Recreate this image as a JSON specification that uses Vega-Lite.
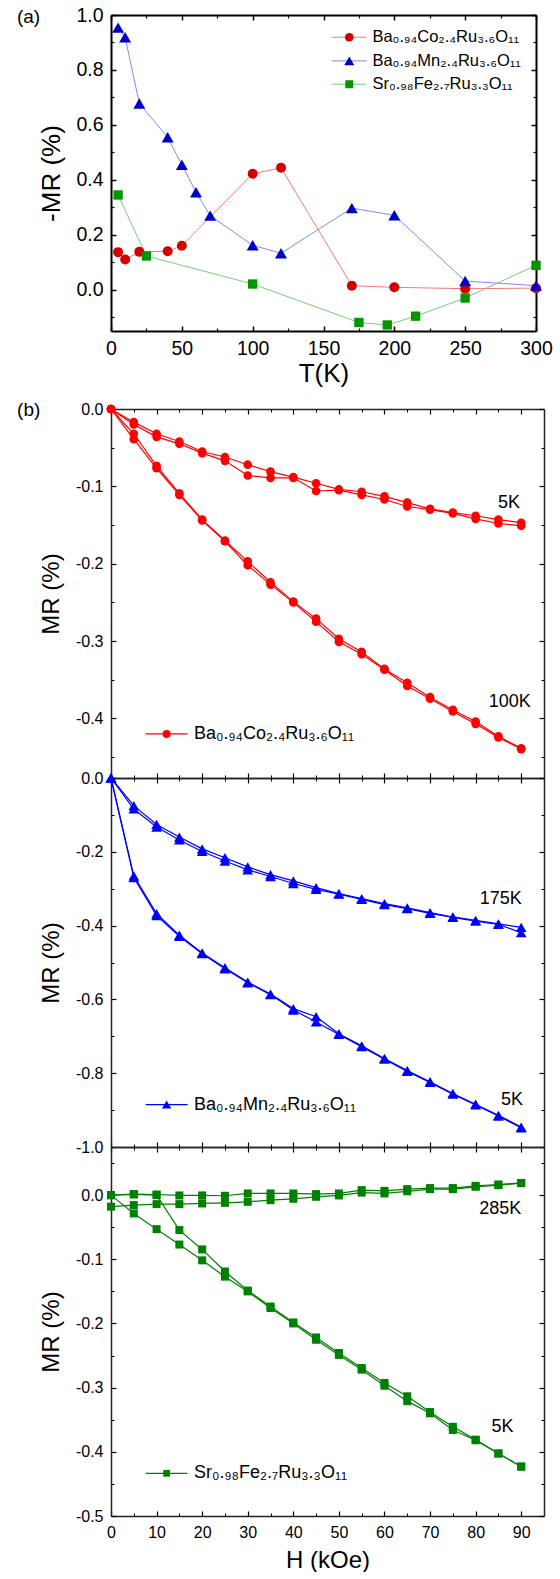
{
"$schema": "https://vega.github.io/schema/vega-lite/v6.json",
"padding": {"left": 16, "top": 5, "right": 0, "bottom": 0},
"config": {
  "font": "Liberation Sans",
  "view": {"stroke": null},
  "axis": {"grid": false, "labelFlush": false, "labelOverlap": false, "labelColor": "#000", "titleColor": "#000", "titleFontWeight": "normal", "tickColor": "#000", "domainColor": "#000", "labelFont": "Liberation Sans", "titleFont": "Liberation Sans"},
  "text": {"font": "Liberation Sans", "color": "#000"}
},
"datasets": {
  "tdep": [
    {"sample": "Co", "T": 5, "minusMR": 0.137}, {"sample": "Co", "T": 10, "minusMR": 0.11}, {"sample": "Co", "T": 20, "minusMR": 0.138}, {"sample": "Co", "T": 40, "minusMR": 0.14}, {"sample": "Co", "T": 50, "minusMR": 0.16}, {"sample": "Co", "T": 100, "minusMR": 0.422}, {"sample": "Co", "T": 120, "minusMR": 0.444}, {"sample": "Co", "T": 170, "minusMR": 0.015}, {"sample": "Co", "T": 200, "minusMR": 0.009}, {"sample": "Co", "T": 250, "minusMR": 0.004}, {"sample": "Co", "T": 300, "minusMR": 0.006},
    {"sample": "Mn", "T": 5, "minusMR": 0.954}, {"sample": "Mn", "T": 10, "minusMR": 0.919}, {"sample": "Mn", "T": 20, "minusMR": 0.678}, {"sample": "Mn", "T": 40, "minusMR": 0.555}, {"sample": "Mn", "T": 50, "minusMR": 0.455}, {"sample": "Mn", "T": 60, "minusMR": 0.355}, {"sample": "Mn", "T": 70, "minusMR": 0.27}, {"sample": "Mn", "T": 100, "minusMR": 0.162}, {"sample": "Mn", "T": 120, "minusMR": 0.133}, {"sample": "Mn", "T": 170, "minusMR": 0.297}, {"sample": "Mn", "T": 200, "minusMR": 0.271}, {"sample": "Mn", "T": 250, "minusMR": 0.032}, {"sample": "Mn", "T": 300, "minusMR": 0.015},
    {"sample": "Fe", "T": 5, "minusMR": 0.345}, {"sample": "Fe", "T": 25, "minusMR": 0.123}, {"sample": "Fe", "T": 100, "minusMR": 0.021}, {"sample": "Fe", "T": 175, "minusMR": -0.119}, {"sample": "Fe", "T": 195, "minusMR": -0.128}, {"sample": "Fe", "T": 215, "minusMR": -0.096}, {"sample": "Fe", "T": 250, "minusMR": -0.03}, {"sample": "Fe", "T": 300, "minusMR": 0.089}
  ],
  "hdep": [
    {"sample": "Co", "T": "5K", "H": 0, "sweep1": 0, "sweep2": 0},
    {"sample": "Co", "T": "5K", "H": 5, "sweep1": -0.017, "sweep2": -0.020},
    {"sample": "Co", "T": "5K", "H": 10, "sweep1": -0.032, "sweep2": -0.036},
    {"sample": "Co", "T": "5K", "H": 15, "sweep1": -0.042, "sweep2": -0.045},
    {"sample": "Co", "T": "5K", "H": 20, "sweep1": -0.055, "sweep2": -0.057},
    {"sample": "Co", "T": "5K", "H": 25, "sweep1": -0.062, "sweep2": -0.067},
    {"sample": "Co", "T": "5K", "H": 30, "sweep1": -0.072, "sweep2": -0.086},
    {"sample": "Co", "T": "5K", "H": 35, "sweep1": -0.081, "sweep2": -0.089},
    {"sample": "Co", "T": "5K", "H": 40, "sweep1": -0.088, "sweep2": -0.089},
    {"sample": "Co", "T": "5K", "H": 45, "sweep1": -0.096, "sweep2": -0.106},
    {"sample": "Co", "T": "5K", "H": 50, "sweep1": -0.104, "sweep2": -0.105},
    {"sample": "Co", "T": "5K", "H": 55, "sweep1": -0.107, "sweep2": -0.111},
    {"sample": "Co", "T": "5K", "H": 60, "sweep1": -0.113, "sweep2": -0.117},
    {"sample": "Co", "T": "5K", "H": 65, "sweep1": -0.121, "sweep2": -0.126},
    {"sample": "Co", "T": "5K", "H": 70, "sweep1": -0.129, "sweep2": -0.130},
    {"sample": "Co", "T": "5K", "H": 75, "sweep1": -0.134, "sweep2": -0.135},
    {"sample": "Co", "T": "5K", "H": 80, "sweep1": -0.138, "sweep2": -0.142},
    {"sample": "Co", "T": "5K", "H": 85, "sweep1": -0.143, "sweep2": -0.148},
    {"sample": "Co", "T": "5K", "H": 90, "sweep1": -0.147, "sweep2": -0.151},
    {"sample": "Co", "T": "100K", "H": 0, "sweep1": 0, "sweep2": 0},
    {"sample": "Co", "T": "100K", "H": 5, "sweep1": -0.032, "sweep2": -0.039},
    {"sample": "Co", "T": "100K", "H": 10, "sweep1": -0.0735, "sweep2": -0.0766},
    {"sample": "Co", "T": "100K", "H": 15, "sweep1": -0.109, "sweep2": -0.111},
    {"sample": "Co", "T": "100K", "H": 20, "sweep1": -0.143, "sweep2": -0.144},
    {"sample": "Co", "T": "100K", "H": 25, "sweep1": -0.170, "sweep2": -0.171},
    {"sample": "Co", "T": "100K", "H": 30, "sweep1": -0.197, "sweep2": -0.202},
    {"sample": "Co", "T": "100K", "H": 35, "sweep1": -0.224, "sweep2": -0.227},
    {"sample": "Co", "T": "100K", "H": 40, "sweep1": -0.249, "sweep2": -0.250},
    {"sample": "Co", "T": "100K", "H": 45, "sweep1": -0.271, "sweep2": -0.275},
    {"sample": "Co", "T": "100K", "H": 50, "sweep1": -0.297, "sweep2": -0.301},
    {"sample": "Co", "T": "100K", "H": 55, "sweep1": -0.314, "sweep2": -0.317},
    {"sample": "Co", "T": "100K", "H": 60, "sweep1": -0.336, "sweep2": -0.337},
    {"sample": "Co", "T": "100K", "H": 65, "sweep1": -0.354, "sweep2": -0.358},
    {"sample": "Co", "T": "100K", "H": 70, "sweep1": -0.3725, "sweep2": -0.3746},
    {"sample": "Co", "T": "100K", "H": 75, "sweep1": -0.389, "sweep2": -0.391},
    {"sample": "Co", "T": "100K", "H": 80, "sweep1": -0.404, "sweep2": -0.407},
    {"sample": "Co", "T": "100K", "H": 85, "sweep1": -0.423, "sweep2": -0.4245},
    {"sample": "Co", "T": "100K", "H": 90, "sweep1": -0.4387, "sweep2": -0.4396},
    {"sample": "Mn", "T": "175K", "H": 0, "sweep1": 0, "sweep2": 0},
    {"sample": "Mn", "T": "175K", "H": 5, "sweep1": -0.075, "sweep2": -0.084},
    {"sample": "Mn", "T": "175K", "H": 10, "sweep1": -0.126, "sweep2": -0.133},
    {"sample": "Mn", "T": "175K", "H": 15, "sweep1": -0.160, "sweep2": -0.168},
    {"sample": "Mn", "T": "175K", "H": 20, "sweep1": -0.192, "sweep2": -0.199},
    {"sample": "Mn", "T": "175K", "H": 25, "sweep1": -0.216, "sweep2": -0.225},
    {"sample": "Mn", "T": "175K", "H": 30, "sweep1": -0.241, "sweep2": -0.249},
    {"sample": "Mn", "T": "175K", "H": 35, "sweep1": -0.262, "sweep2": -0.267},
    {"sample": "Mn", "T": "175K", "H": 40, "sweep1": -0.279, "sweep2": -0.286},
    {"sample": "Mn", "T": "175K", "H": 45, "sweep1": -0.297, "sweep2": -0.302},
    {"sample": "Mn", "T": "175K", "H": 50, "sweep1": -0.3135, "sweep2": -0.315},
    {"sample": "Mn", "T": "175K", "H": 55, "sweep1": -0.327, "sweep2": -0.329},
    {"sample": "Mn", "T": "175K", "H": 60, "sweep1": -0.3405, "sweep2": -0.343},
    {"sample": "Mn", "T": "175K", "H": 65, "sweep1": -0.352, "sweep2": -0.354},
    {"sample": "Mn", "T": "175K", "H": 70, "sweep1": -0.365, "sweep2": -0.367},
    {"sample": "Mn", "T": "175K", "H": 75, "sweep1": -0.3766, "sweep2": -0.378},
    {"sample": "Mn", "T": "175K", "H": 80, "sweep1": -0.386, "sweep2": -0.388},
    {"sample": "Mn", "T": "175K", "H": 85, "sweep1": -0.3955, "sweep2": -0.397},
    {"sample": "Mn", "T": "175K", "H": 90, "sweep1": -0.405, "sweep2": -0.419},
    {"sample": "Mn", "T": "5K", "H": 0, "sweep1": 0, "sweep2": 0},
    {"sample": "Mn", "T": "5K", "H": 5, "sweep1": -0.265, "sweep2": -0.270},
    {"sample": "Mn", "T": "5K", "H": 10, "sweep1": -0.3676, "sweep2": -0.373},
    {"sample": "Mn", "T": "5K", "H": 15, "sweep1": -0.426, "sweep2": -0.429},
    {"sample": "Mn", "T": "5K", "H": 20, "sweep1": -0.474, "sweep2": -0.476},
    {"sample": "Mn", "T": "5K", "H": 25, "sweep1": -0.514, "sweep2": -0.517},
    {"sample": "Mn", "T": "5K", "H": 30, "sweep1": -0.553, "sweep2": -0.555},
    {"sample": "Mn", "T": "5K", "H": 35, "sweep1": -0.5856, "sweep2": -0.587},
    {"sample": "Mn", "T": "5K", "H": 40, "sweep1": -0.625, "sweep2": -0.629},
    {"sample": "Mn", "T": "5K", "H": 45, "sweep1": -0.647, "sweep2": -0.661},
    {"sample": "Mn", "T": "5K", "H": 50, "sweep1": -0.693, "sweep2": -0.695},
    {"sample": "Mn", "T": "5K", "H": 55, "sweep1": -0.726, "sweep2": -0.728},
    {"sample": "Mn", "T": "5K", "H": 60, "sweep1": -0.760, "sweep2": -0.762},
    {"sample": "Mn", "T": "5K", "H": 65, "sweep1": -0.793, "sweep2": -0.795},
    {"sample": "Mn", "T": "5K", "H": 70, "sweep1": -0.823, "sweep2": -0.825},
    {"sample": "Mn", "T": "5K", "H": 75, "sweep1": -0.855, "sweep2": -0.857},
    {"sample": "Mn", "T": "5K", "H": 80, "sweep1": -0.884, "sweep2": -0.886},
    {"sample": "Mn", "T": "5K", "H": 85, "sweep1": -0.914, "sweep2": -0.916},
    {"sample": "Mn", "T": "5K", "H": 90, "sweep1": -0.946, "sweep2": -0.948},
    {"sample": "Fe", "T": "285K", "H": 0, "sweep1": 0, "sweep2": -0.018},
    {"sample": "Fe", "T": "285K", "H": 5, "sweep1": 0.0016, "sweep2": -0.0155},
    {"sample": "Fe", "T": "285K", "H": 10, "sweep1": 0.001, "sweep2": -0.014},
    {"sample": "Fe", "T": "285K", "H": 15, "sweep1": -0.0005, "sweep2": -0.014},
    {"sample": "Fe", "T": "285K", "H": 20, "sweep1": -0.0005, "sweep2": -0.013},
    {"sample": "Fe", "T": "285K", "H": 25, "sweep1": -0.001, "sweep2": -0.012},
    {"sample": "Fe", "T": "285K", "H": 30, "sweep1": 0.0026, "sweep2": -0.0104},
    {"sample": "Fe", "T": "285K", "H": 35, "sweep1": 0.0026, "sweep2": -0.0078},
    {"sample": "Fe", "T": "285K", "H": 40, "sweep1": 0.0026, "sweep2": -0.0057},
    {"sample": "Fe", "T": "285K", "H": 45, "sweep1": 0.0016, "sweep2": -0.0026},
    {"sample": "Fe", "T": "285K", "H": 50, "sweep1": 0.0026, "sweep2": -0.0005},
    {"sample": "Fe", "T": "285K", "H": 55, "sweep1": 0.0078, "sweep2": 0.004},
    {"sample": "Fe", "T": "285K", "H": 60, "sweep1": 0.0067, "sweep2": 0.0026},
    {"sample": "Fe", "T": "285K", "H": 65, "sweep1": 0.0093, "sweep2": 0.006},
    {"sample": "Fe", "T": "285K", "H": 70, "sweep1": 0.011, "sweep2": 0.0093},
    {"sample": "Fe", "T": "285K", "H": 75, "sweep1": 0.011, "sweep2": 0.0093},
    {"sample": "Fe", "T": "285K", "H": 80, "sweep1": 0.0145, "sweep2": 0.013},
    {"sample": "Fe", "T": "285K", "H": 85, "sweep1": 0.0166, "sweep2": 0.0155},
    {"sample": "Fe", "T": "285K", "H": 90, "sweep1": 0.019, "sweep2": 0.0187},
    {"sample": "Fe", "T": "5K", "H": 0, "sweep1": 0, "sweep2": 0},
    {"sample": "Fe", "T": "5K", "H": 5, "sweep1": -0.0285, "sweep2": 0.001},
    {"sample": "Fe", "T": "5K", "H": 10, "sweep1": -0.053, "sweep2": 0.0},
    {"sample": "Fe", "T": "5K", "H": 15, "sweep1": -0.077, "sweep2": -0.0545},
    {"sample": "Fe", "T": "5K", "H": 20, "sweep1": -0.1016, "sweep2": -0.0846},
    {"sample": "Fe", "T": "5K", "H": 25, "sweep1": -0.127, "sweep2": -0.119},
    {"sample": "Fe", "T": "5K", "H": 30, "sweep1": -0.150, "sweep2": -0.1487},
    {"sample": "Fe", "T": "5K", "H": 35, "sweep1": -0.176, "sweep2": -0.1736},
    {"sample": "Fe", "T": "5K", "H": 40, "sweep1": -0.200, "sweep2": -0.1984},
    {"sample": "Fe", "T": "5K", "H": 45, "sweep1": -0.2254, "sweep2": -0.2218},
    {"sample": "Fe", "T": "5K", "H": 50, "sweep1": -0.249, "sweep2": -0.246},
    {"sample": "Fe", "T": "5K", "H": 55, "sweep1": -0.272, "sweep2": -0.2694},
    {"sample": "Fe", "T": "5K", "H": 60, "sweep1": -0.297, "sweep2": -0.2927},
    {"sample": "Fe", "T": "5K", "H": 65, "sweep1": -0.321, "sweep2": -0.3135},
    {"sample": "Fe", "T": "5K", "H": 70, "sweep1": -0.340, "sweep2": -0.338},
    {"sample": "Fe", "T": "5K", "H": 75, "sweep1": -0.366, "sweep2": -0.361},
    {"sample": "Fe", "T": "5K", "H": 80, "sweep1": -0.382, "sweep2": -0.381},
    {"sample": "Fe", "T": "5K", "H": 85, "sweep1": -0.4026, "sweep2": -0.4026},
    {"sample": "Fe", "T": "5K", "H": 90, "sweep1": -0.423, "sweep2": -0.423}
  ],
  "legend": [
    {"sample": "Co", "label": "Ba₀.₉₄Co₂.₄Ru₃.₆O₁₁"},
    {"sample": "Mn", "label": "Ba₀.₉₄Mn₂.₄Ru₃.₆O₁₁"},
    {"sample": "Fe", "label": "Sr₀.₉₈Fe₂.₇Ru₃.₃O₁₁"}
  ],
  "notes": [
    {"sample": "Co", "T": "5K"}, {"sample": "Co", "T": "100K"},
    {"sample": "Mn", "T": "175K"}, {"sample": "Mn", "T": "5K"},
    {"sample": "Fe", "T": "285K"}, {"sample": "Fe", "T": "5K"}
  ],
  "panels": [{"panel": "(a)"}, {"panel": "(b)"}]
},
"spacing": 78,
"bounds": "flush",
"vconcat": [
  {
    "width": 425, "height": 316,
    "resolve": {"axis": {"x": "independent", "y": "independent"}},
    "layer": [
      {"data": {"name": "tdep"},
       "mark": {"type": "line", "strokeWidth": 1},
       "encoding": {
         "x": {"field": "T", "type": "quantitative", "scale": {"domain": [0, 300], "nice": false, "zero": false},
               "axis": {"orient": "bottom", "values": [0, 50, 100, 150, 200, 250, 300], "title": "T(K)", "titleFontSize": 26, "titlePadding": 3, "labelFontSize": 19.5, "labelPadding": 13, "tickSize": -5, "tickWidth": 1.5, "domainWidth": 2}},
         "y": {"field": "minusMR", "type": "quantitative", "scale": {"domain": [-0.15, 1.0], "nice": false, "zero": false},
               "axis": {"orient": "left", "values": [0, 0.2, 0.4, 0.6, 0.8, 1.0], "format": ".1f", "title": "-MR (%)", "titleFontSize": 26, "titlePadding": 11, "labelFontSize": 19.5, "labelPadding": 13, "tickSize": -5, "tickWidth": 1.5, "domainWidth": 2}},
         "stroke": {"field": "sample", "type": "nominal", "scale": {"domain": ["Co", "Mn", "Fe"], "range": ["#f07a7a", "#7d8cee", "#7acc7a"]}, "legend": null}
       }},
      {"data": {"name": "tdep"}, "transform": [{"filter": {"field": "sample", "equal": "Co"}}],
       "mark": {"type": "point", "filled": true, "opacity": 1, "shape": "circle", "size": 100, "color": "#d40000"},
       "encoding": {
         "x": {"field": "T", "type": "quantitative", "axis": {"orient": "top", "values": [0, 50, 100, 150, 200, 250, 300], "labels": false, "title": null, "tickSize": -5, "tickWidth": 1.5, "domainWidth": 2}},
         "y": {"field": "minusMR", "type": "quantitative", "axis": {"orient": "right", "values": [0, 0.2, 0.4, 0.6, 0.8, 1.0], "labels": false, "title": null, "tickSize": -5, "tickWidth": 1.5, "domainWidth": 2}}
       }},
      {"data": {"name": "tdep"}, "transform": [{"filter": {"field": "sample", "equal": "Mn"}}],
       "mark": {"type": "point", "filled": true, "opacity": 1, "shape": "triangle-up", "size": 144, "color": "#0000c8"},
       "encoding": {
         "x": {"field": "T", "type": "quantitative", "axis": {"orient": "bottom", "values": [25, 75, 125, 175, 225, 275], "labels": false, "title": null, "domain": false, "tickSize": -3, "tickWidth": 1.2}},
         "y": {"field": "minusMR", "type": "quantitative", "axis": {"orient": "left", "values": [-0.1, 0.1, 0.3, 0.5, 0.7, 0.9], "labels": false, "title": null, "domain": false, "tickSize": -3, "tickWidth": 1.2}}
       }},
      {"data": {"name": "tdep"}, "transform": [{"filter": {"field": "sample", "equal": "Fe"}}],
       "mark": {"type": "point", "filled": true, "opacity": 1, "shape": "square", "size": 87, "color": "#009600"},
       "encoding": {
         "x": {"field": "T", "type": "quantitative", "axis": {"orient": "top", "values": [25, 75, 125, 175, 225, 275], "labels": false, "title": null, "domain": false, "tickSize": -3, "tickWidth": 1.2}},
         "y": {"field": "minusMR", "type": "quantitative", "axis": {"orient": "right", "values": [-0.1, 0.1, 0.3, 0.5, 0.7, 0.9], "labels": false, "title": null, "domain": false, "tickSize": -3, "tickWidth": 1.2}}
       }},
      {"data": {"name": "panels"}, "transform": [{"filter": {"field": "panel", "equal": "(a)"}}],
       "mark": {"type": "text", "align": "left", "baseline": "middle", "fontSize": 19},
       "encoding": {"x": {"datum": -66.4, "axis": null}, "y": {"datum": 0.994, "axis": null}, "text": {"field": "panel"}}},
      {"data": {"name": "legend"}, "transform": [{"filter": {"field": "sample", "equal": "Co"}}],
       "mark": {"type": "rule", "color": "#f07a7a", "strokeWidth": 1},
       "encoding": {"x": {"datum": 155.7, "axis": null}, "x2": {"datum": 180.5}, "y": {"datum": 0.919, "axis": null}}},
      {"data": {"name": "legend"}, "transform": [{"filter": {"field": "sample", "equal": "Co"}}],
       "mark": {"type": "point", "filled": true, "opacity": 1, "shape": "circle", "size": 75, "color": "#d40000"},
       "encoding": {"x": {"datum": 168.2, "axis": null}, "y": {"datum": 0.919, "axis": null}}},
      {"data": {"name": "legend"}, "transform": [{"filter": {"field": "sample", "equal": "Co"}}],
       "mark": {"type": "text", "align": "left", "baseline": "middle", "fontSize": 16.5},
       "encoding": {"x": {"datum": 184.5, "axis": null}, "y": {"datum": 0.919, "axis": null}, "text": {"field": "label"}}},
      {"data": {"name": "legend"}, "transform": [{"filter": {"field": "sample", "equal": "Mn"}}],
       "mark": {"type": "rule", "color": "#7d8cee", "strokeWidth": 1},
       "encoding": {"x": {"datum": 155.7, "axis": null}, "x2": {"datum": 180.5}, "y": {"datum": 0.833, "axis": null}}},
      {"data": {"name": "legend"}, "transform": [{"filter": {"field": "sample", "equal": "Mn"}}],
       "mark": {"type": "point", "filled": true, "opacity": 1, "shape": "triangle-up", "size": 100, "color": "#0000c8"},
       "encoding": {"x": {"datum": 168.2, "axis": null}, "y": {"datum": 0.833, "axis": null}}},
      {"data": {"name": "legend"}, "transform": [{"filter": {"field": "sample", "equal": "Mn"}}],
       "mark": {"type": "text", "align": "left", "baseline": "middle", "fontSize": 16.5},
       "encoding": {"x": {"datum": 184.5, "axis": null}, "y": {"datum": 0.833, "axis": null}, "text": {"field": "label"}}},
      {"data": {"name": "legend"}, "transform": [{"filter": {"field": "sample", "equal": "Fe"}}],
       "mark": {"type": "rule", "color": "#7acc7a", "strokeWidth": 1},
       "encoding": {"x": {"datum": 155.7, "axis": null}, "x2": {"datum": 180.5}, "y": {"datum": 0.748, "axis": null}}},
      {"data": {"name": "legend"}, "transform": [{"filter": {"field": "sample", "equal": "Fe"}}],
       "mark": {"type": "point", "filled": true, "opacity": 1, "shape": "square", "size": 64, "color": "#009600"},
       "encoding": {"x": {"datum": 168.2, "axis": null}, "y": {"datum": 0.748, "axis": null}}},
      {"data": {"name": "legend"}, "transform": [{"filter": {"field": "sample", "equal": "Fe"}}],
       "mark": {"type": "text", "align": "left", "baseline": "middle", "fontSize": 16.5},
       "encoding": {"x": {"datum": 184.5, "axis": null}, "y": {"datum": 0.748, "axis": null}, "text": {"field": "label"}}}
    ]
  },
  {
    "spacing": 0,
    "bounds": "flush",
    "vconcat": [
      {
        "width": 433, "height": 369,
        "resolve": {"axis": {"x": "independent", "y": "independent"}},
        "layer": [
          {"data": {"name": "hdep"}, "transform": [{"filter": {"field": "sample", "equal": "Co"}}, {"fold": ["sweep1", "sweep2"], "as": ["sweep", "MR"]}],
           "mark": {"type": "line", "color": "#ff0000", "strokeWidth": 1.2},
           "encoding": {
             "x": {"field": "H", "type": "quantitative", "scale": {"domain": [0, 95], "nice": false, "zero": false},
                   "axis": {"orient": "bottom", "values": [0, 10, 20, 30, 40, 50, 60, 70, 80, 90], "labels": false, "title": null, "tickSize": -5, "tickWidth": 1.2, "domainWidth": 1.5, "domainColor": "#222"}},
             "y": {"field": "MR", "type": "quantitative", "scale": {"domain": [-0.477, 0], "nice": false, "zero": false},
                   "axis": {"orient": "left", "values": [0, -0.1, -0.2, -0.3, -0.4], "labelExpr": "replace(format(datum.value, '.1f'), '−', '-')", "labelFontSize": 16, "labelPadding": 13, "title": "MR (%)", "titleFontSize": 24, "titlePadding": 12, "tickSize": -5, "tickWidth": 1.2, "domainWidth": 1.5, "domainColor": "#222"}},
             "detail": [{"field": "T", "type": "nominal"}, {"field": "sweep", "type": "nominal"}]
           }},
          {"data": {"name": "hdep"}, "transform": [{"filter": {"field": "sample", "equal": "Co"}}, {"fold": ["sweep1", "sweep2"], "as": ["sweep", "MR"]}],
           "mark": {"type": "point", "filled": true, "opacity": 1, "shape": "circle", "size": 75, "color": "#ff0000"},
           "encoding": {
             "x": {"field": "H", "type": "quantitative", "axis": {"orient": "top", "values": [0, 10, 20, 30, 40, 50, 60, 70, 80, 90], "labels": false, "title": null, "tickSize": -5, "tickWidth": 1.2, "domainWidth": 1.5, "domainColor": "#222"}},
             "y": {"field": "MR", "type": "quantitative", "axis": {"orient": "right", "values": [0, -0.1, -0.2, -0.3, -0.4], "labels": false, "title": null, "tickSize": -5, "tickWidth": 1.2, "domainWidth": 1.5, "domainColor": "#222"}}
           }},
          {"data": {"name": "legend"}, "transform": [{"filter": {"field": "sample", "equal": "Co"}}],
           "mark": {"type": "rule", "color": "#ff0000", "strokeWidth": 1.2},
           "encoding": {
             "x": {"datum": 7.6, "axis": {"orient": "bottom", "values": [5, 15, 25, 35, 45, 55, 65, 75, 85], "labels": false, "title": null, "domain": false, "tickSize": -3, "tickWidth": 1}},
             "x2": {"datum": 16.8},
             "y": {"datum": -0.42, "axis": {"orient": "left", "values": [-0.05, -0.15, -0.25, -0.35, -0.45], "labels": false, "title": null, "domain": false, "tickSize": -3, "tickWidth": 1}}
           }},
          {"data": {"name": "legend"}, "transform": [{"filter": {"field": "sample", "equal": "Co"}}],
           "mark": {"type": "point", "filled": true, "opacity": 1, "shape": "circle", "size": 64, "color": "#ff0000"},
           "encoding": {
             "x": {"datum": 12.2, "axis": {"orient": "top", "values": [5, 15, 25, 35, 45, 55, 65, 75, 85], "labels": false, "title": null, "domain": false, "tickSize": -3, "tickWidth": 1}},
             "y": {"datum": -0.42, "axis": {"orient": "right", "values": [-0.05, -0.15, -0.25, -0.35, -0.45], "labels": false, "title": null, "domain": false, "tickSize": -3, "tickWidth": 1}}
           }},
          {"data": {"name": "legend"}, "transform": [{"filter": {"field": "sample", "equal": "Co"}}],
           "mark": {"type": "text", "align": "left", "baseline": "middle", "fontSize": 18},
           "encoding": {"x": {"datum": 18.2, "axis": null}, "y": {"datum": -0.42, "axis": null}, "text": {"field": "label"}}},
          {"data": {"name": "panels"}, "transform": [{"filter": {"field": "panel", "equal": "(b)"}}],
           "mark": {"type": "text", "align": "left", "baseline": "middle", "fontSize": 19},
           "encoding": {"x": {"datum": -20.6, "axis": null}, "y": {"datum": -0.0013, "axis": null}, "text": {"field": "panel"}}},
          {"data": {"name": "notes"}, "transform": [{"filter": "datum.sample == 'Co' && datum.T == '5K'"}],
           "mark": {"type": "text", "align": "center", "baseline": "middle", "fontSize": 18},
           "encoding": {"x": {"datum": 87.3, "axis": null}, "y": {"datum": -0.122, "axis": null}, "text": {"field": "T"}}},
          {"data": {"name": "notes"}, "transform": [{"filter": "datum.sample == 'Co' && datum.T == '100K'"}],
           "mark": {"type": "text", "align": "center", "baseline": "middle", "fontSize": 18},
           "encoding": {"x": {"datum": 87.5, "axis": null}, "y": {"datum": -0.379, "axis": null}, "text": {"field": "T"}}}
        ]
      },
      {
        "width": 433, "height": 369,
        "resolve": {"axis": {"x": "independent", "y": "independent"}},
        "layer": [
          {"data": {"name": "hdep"}, "transform": [{"filter": {"field": "sample", "equal": "Mn"}}, {"fold": ["sweep1", "sweep2"], "as": ["sweep", "MR"]}],
           "mark": {"type": "line", "color": "#0000ff", "strokeWidth": 1.2},
           "encoding": {
             "x": {"field": "H", "type": "quantitative", "scale": {"domain": [0, 95], "nice": false, "zero": false},
                   "axis": {"orient": "bottom", "values": [0, 10, 20, 30, 40, 50, 60, 70, 80, 90], "labels": false, "title": null, "tickSize": -5, "tickWidth": 1.2, "domainWidth": 1.5, "domainColor": "#222"}},
             "y": {"field": "MR", "type": "quantitative", "scale": {"domain": [-1.0, 0], "nice": false, "zero": false},
                   "axis": {"orient": "left", "values": [0, -0.2, -0.4, -0.6, -0.8, -1.0], "labelExpr": "replace(format(datum.value, '.1f'), '−', '-')", "labelFontSize": 16, "labelPadding": 13, "title": "MR (%)", "titleFontSize": 24, "titlePadding": 12, "tickSize": -5, "tickWidth": 1.2, "domainWidth": 1.5, "domainColor": "#222"}},
             "detail": [{"field": "T", "type": "nominal"}, {"field": "sweep", "type": "nominal"}]
           }},
          {"data": {"name": "hdep"}, "transform": [{"filter": {"field": "sample", "equal": "Mn"}}, {"fold": ["sweep1", "sweep2"], "as": ["sweep", "MR"]}],
           "mark": {"type": "point", "filled": true, "opacity": 1, "shape": "triangle-up", "size": 114, "color": "#0000ff"},
           "encoding": {
             "x": {"field": "H", "type": "quantitative", "axis": {"orient": "top", "values": [0, 10, 20, 30, 40, 50, 60, 70, 80, 90], "labels": false, "title": null, "tickSize": -5, "tickWidth": 1.2, "domainWidth": 1.5, "domainColor": "#222"}},
             "y": {"field": "MR", "type": "quantitative", "axis": {"orient": "right", "values": [0, -0.2, -0.4, -0.6, -0.8, -1.0], "labels": false, "title": null, "tickSize": -5, "tickWidth": 1.2, "domainWidth": 1.5, "domainColor": "#222"}}
           }},
          {"data": {"name": "legend"}, "transform": [{"filter": {"field": "sample", "equal": "Mn"}}],
           "mark": {"type": "rule", "color": "#0000ff", "strokeWidth": 1.2},
           "encoding": {
             "x": {"datum": 7.6, "axis": {"orient": "bottom", "values": [5, 15, 25, 35, 45, 55, 65, 75, 85], "labels": false, "title": null, "domain": false, "tickSize": -3, "tickWidth": 1}},
             "x2": {"datum": 16.8},
             "y": {"datum": -0.885, "axis": {"orient": "left", "values": [-0.1, -0.3, -0.5, -0.7, -0.9], "labels": false, "title": null, "domain": false, "tickSize": -3, "tickWidth": 1}}
           }},
          {"data": {"name": "legend"}, "transform": [{"filter": {"field": "sample", "equal": "Mn"}}],
           "mark": {"type": "point", "filled": true, "opacity": 1, "shape": "triangle-up", "size": 87, "color": "#0000ff"},
           "encoding": {
             "x": {"datum": 12.2, "axis": {"orient": "top", "values": [5, 15, 25, 35, 45, 55, 65, 75, 85], "labels": false, "title": null, "domain": false, "tickSize": -3, "tickWidth": 1}},
             "y": {"datum": -0.885, "axis": {"orient": "right", "values": [-0.1, -0.3, -0.5, -0.7, -0.9], "labels": false, "title": null, "domain": false, "tickSize": -3, "tickWidth": 1}}
           }},
          {"data": {"name": "legend"}, "transform": [{"filter": {"field": "sample", "equal": "Mn"}}],
           "mark": {"type": "text", "align": "left", "baseline": "middle", "fontSize": 18},
           "encoding": {"x": {"datum": 18.2, "axis": null}, "y": {"datum": -0.885, "axis": null}, "text": {"field": "label"}}},
          {"data": {"name": "notes"}, "transform": [{"filter": "datum.sample == 'Mn' && datum.T == '175K'"}],
           "mark": {"type": "text", "align": "center", "baseline": "middle", "fontSize": 18},
           "encoding": {"x": {"datum": 85.5, "axis": null}, "y": {"datum": -0.328, "axis": null}, "text": {"field": "T"}}},
          {"data": {"name": "notes"}, "transform": [{"filter": "datum.sample == 'Mn' && datum.T == '5K'"}],
           "mark": {"type": "text", "align": "center", "baseline": "middle", "fontSize": 18},
           "encoding": {"x": {"datum": 88.0, "axis": null}, "y": {"datum": -0.873, "axis": null}, "text": {"field": "T"}}}
        ]
      },
      {
        "width": 433, "height": 369,
        "resolve": {"axis": {"x": "independent", "y": "independent"}},
        "layer": [
          {"data": {"name": "hdep"}, "transform": [{"filter": {"field": "sample", "equal": "Fe"}}, {"fold": ["sweep1", "sweep2"], "as": ["sweep", "MR"]}],
           "mark": {"type": "line", "color": "#008000", "strokeWidth": 1.2},
           "encoding": {
             "x": {"field": "H", "type": "quantitative", "scale": {"domain": [0, 95], "nice": false, "zero": false},
                   "axis": {"orient": "bottom", "values": [0, 10, 20, 30, 40, 50, 60, 70, 80, 90], "labelFontSize": 16, "labelPadding": 13, "title": "H (kOe)", "titleFontSize": 24, "titlePadding": 8, "tickSize": -5, "tickWidth": 1.2, "domainWidth": 1.5, "domainColor": "#222"}},
             "y": {"field": "MR", "type": "quantitative", "scale": {"domain": [-0.5, 0.075], "nice": false, "zero": false},
                   "axis": {"orient": "left", "values": [0, -0.1, -0.2, -0.3, -0.4, -0.5], "labelExpr": "replace(format(datum.value, '.1f'), '−', '-')", "labelFontSize": 16, "labelPadding": 13, "title": "MR (%)", "titleFontSize": 24, "titlePadding": 12, "tickSize": -5, "tickWidth": 1.2, "domainWidth": 1.5, "domainColor": "#222"}},
             "detail": [{"field": "T", "type": "nominal"}, {"field": "sweep", "type": "nominal"}]
           }},
          {"data": {"name": "hdep"}, "transform": [{"filter": {"field": "sample", "equal": "Fe"}}, {"fold": ["sweep1", "sweep2"], "as": ["sweep", "MR"]}],
           "mark": {"type": "point", "filled": true, "opacity": 1, "shape": "square", "size": 64, "color": "#008000"},
           "encoding": {
             "x": {"field": "H", "type": "quantitative", "axis": {"orient": "top", "values": [0, 10, 20, 30, 40, 50, 60, 70, 80, 90], "labels": false, "title": null, "tickSize": -5, "tickWidth": 1.2, "domainWidth": 1.5, "domainColor": "#222"}},
             "y": {"field": "MR", "type": "quantitative", "axis": {"orient": "right", "values": [0, -0.1, -0.2, -0.3, -0.4, -0.5], "labels": false, "title": null, "tickSize": -5, "tickWidth": 1.2, "domainWidth": 1.5, "domainColor": "#222"}}
           }},
          {"data": {"name": "legend"}, "transform": [{"filter": {"field": "sample", "equal": "Fe"}}],
           "mark": {"type": "rule", "color": "#008000", "strokeWidth": 1.2},
           "encoding": {
             "x": {"datum": 7.6, "axis": {"orient": "bottom", "values": [5, 15, 25, 35, 45, 55, 65, 75, 85], "labels": false, "title": null, "domain": false, "tickSize": -3, "tickWidth": 1}},
             "x2": {"datum": 16.8},
             "y": {"datum": -0.4335, "axis": {"orient": "left", "values": [0.05, -0.05, -0.15, -0.25, -0.35, -0.45], "labels": false, "title": null, "domain": false, "tickSize": -3, "tickWidth": 1}}
           }},
          {"data": {"name": "legend"}, "transform": [{"filter": {"field": "sample", "equal": "Fe"}}],
           "mark": {"type": "point", "filled": true, "opacity": 1, "shape": "square", "size": 45, "color": "#008000"},
           "encoding": {
             "x": {"datum": 12.2, "axis": {"orient": "top", "values": [5, 15, 25, 35, 45, 55, 65, 75, 85], "labels": false, "title": null, "domain": false, "tickSize": -3, "tickWidth": 1}},
             "y": {"datum": -0.4335, "axis": {"orient": "right", "values": [0.05, -0.05, -0.15, -0.25, -0.35, -0.45], "labels": false, "title": null, "domain": false, "tickSize": -3, "tickWidth": 1}}
           }},
          {"data": {"name": "legend"}, "transform": [{"filter": {"field": "sample", "equal": "Fe"}}],
           "mark": {"type": "text", "align": "left", "baseline": "middle", "fontSize": 18},
           "encoding": {"x": {"datum": 18.2, "axis": null}, "y": {"datum": -0.4335, "axis": null}, "text": {"field": "label"}}},
          {"data": {"name": "notes"}, "transform": [{"filter": "datum.sample == 'Fe' && datum.T == '285K'"}],
           "mark": {"type": "text", "align": "center", "baseline": "middle", "fontSize": 18},
           "encoding": {"x": {"datum": 85.4, "axis": null}, "y": {"datum": -0.0223, "axis": null}, "text": {"field": "T"}}},
          {"data": {"name": "notes"}, "transform": [{"filter": "datum.sample == 'Fe' && datum.T == '5K'"}],
           "mark": {"type": "text", "align": "center", "baseline": "middle", "fontSize": 18},
           "encoding": {"x": {"datum": 85.9, "axis": null}, "y": {"datum": -0.3618, "axis": null}, "text": {"field": "T"}}}
        ]
      }
    ]
  }
]
}
